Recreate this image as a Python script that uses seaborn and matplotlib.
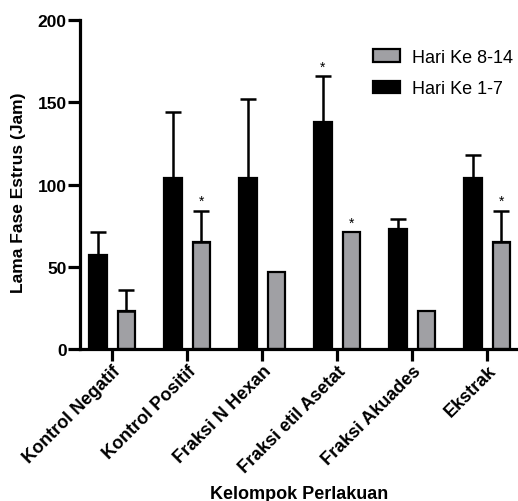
import pandas as pd
import matplotlib
matplotlib.use('Agg')
import matplotlib.pyplot as plt
import seaborn as sns

# Data
kelompok = ['Kontrol Negatif', 'Kontrol Positif', 'Fraksi N Hexan',
            'Fraksi etil Asetat', 'Fraksi Akuades', 'Ekstrak']
hari_1_7 = [57, 104, 104, 138, 73, 104]
sd_1_7 = [14, 40, 48, 28, 6, 14]
hari_8_14 = [23, 65, 47, 71, 23, 65]
sd_8_14 = [13, 19, 0, 0, 0, 19]
# significance markers: (group index, series)
bintang = [(1, 'Hari Ke 8-14'), (3, 'Hari Ke 1-7'), (3, 'Hari Ke 8-14'), (5, 'Hari Ke 8-14')]

seri = ['Hari Ke 1-7', 'Hari Ke 8-14']
warna = {'Hari Ke 1-7': '#000000', 'Hari Ke 8-14': '#a0a0a4'}

df = pd.DataFrame({
    'kelompok': kelompok * 2,
    'seri': ['Hari Ke 1-7'] * len(kelompok) + ['Hari Ke 8-14'] * len(kelompok),
    'nilai': hari_1_7 + hari_8_14,
    'sd': sd_1_7 + sd_8_14,
})

sns.set_style('ticks')
plt.rcParams['font.family'] = ['Liberation Sans', 'DejaVu Sans']
plt.rcParams.update({'text.color': 'black', 'axes.labelcolor': 'black',
                     'xtick.color': 'black', 'ytick.color': 'black',
                     'axes.edgecolor': 'black'})

fig = plt.figure(figsize=(5.18, 5.02), dpi=100)
ax = fig.add_axes([0.1544, 0.3028, 0.8456, 0.655])

sns.barplot(data=df, x='kelompok', y='nilai', hue='seri', hue_order=seri,
            order=kelompok, palette=warna, width=0.76, gap=0.4,
            edgecolor='black', linewidth=1.6, errorbar=None, ax=ax)

# upward-only error bars + stars
for cont, s in zip(ax.containers, seri):
    sub = df[df['seri'] == s].set_index('kelompok').loc[kelompok]
    for i, (bar, err) in enumerate(zip(cont.patches, sub['sd'])):
        xc = bar.get_x() + bar.get_width() / 2
        top = bar.get_height()
        if err > 0:
            ax.errorbar(xc, top, yerr=[[0], [err]], fmt='none', ecolor='black',
                        elinewidth=1.8, capsize=5.5, capthick=1.8)
        if (i, s) in bintang:
            ax.annotate('*', (xc, top + err), xytext=(0, 2), textcoords='offset points',
                        ha='center', va='bottom', fontsize=10)

ax.set_ylim(0, 200)
ax.set_xlim(-0.43, 5.41)
ax.set_yticks([0, 50, 100, 150, 200])
sns.despine(ax=ax)
for sp in ['left', 'bottom']:
    ax.spines[sp].set_linewidth(2.3)
ax.tick_params(axis='both', width=2.3, length=8.5, labelsize=12.5, pad=1)
for lab in ax.get_yticklabels():
    lab.set_fontweight('bold')
ax.set_xticks(range(len(kelompok)))
ax.set_xticklabels(kelompok, rotation=45, ha='right', rotation_mode='anchor',
                   fontweight='bold', fontsize=13)

ax.set_ylabel('Lama Fase Estrus (Jam)', fontsize=12.5, fontweight='bold')
ax.yaxis.set_label_coords(-0.123, 0.477)
ax.set_xlabel('Kelompok Perlakuan', fontsize=13, fontweight='bold')
ax.xaxis.set_label_coords(0.5, -0.413)

handles, labels = ax.get_legend_handles_labels()
ax.legend(handles[::-1], labels[::-1], loc='upper left', frameon=False,
          fontsize=13, bbox_to_anchor=(373 / 518, 1 - 50 / 502),
          bbox_transform=fig.transFigure, borderaxespad=0, borderpad=0,
          handlelength=1.5, handleheight=0.7, handletextpad=0.65, labelspacing=0.8)

fig.savefig('out.png', dpi=100)
